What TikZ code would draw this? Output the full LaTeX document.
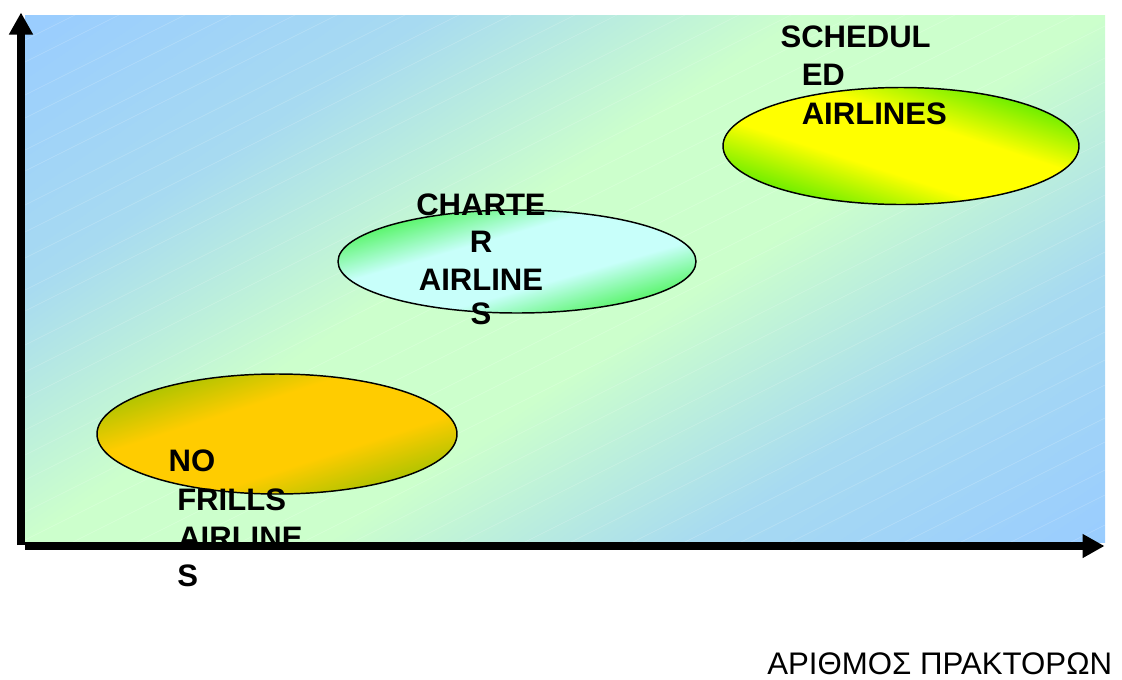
\documentclass[tikz,border=0pt]{standalone}
\usepackage{fontspec}
\setmainfont{Liberation Sans}
\usetikzlibrary{arrows.meta,shapes.geometric}
\definecolor{bgblue}{RGB}{153,204,255}
\definecolor{bggreen}{RGB}{204,255,204}
\definecolor{schedgreen}{RGB}{112,238,0}
\definecolor{schedyellow}{RGB}{255,255,0}
\definecolor{chgreen}{RGB}{92,245,110}
\definecolor{chcyan}{RGB}{200,255,250}
\definecolor{nfolive}{RGB}{178,196,0}
\definecolor{nfgold}{RGB}{255,204,0}
\colorlet{bgmid}{bgblue!72!bggreen}
\pgfdeclareverticalshading{bgsh}{100bp}{color(0bp)=(bgblue); color(25bp)=(bgblue); color(36bp)=(bgmid); color(46bp)=(bggreen); color(54bp)=(bggreen); color(64bp)=(bgmid); color(75bp)=(bgblue); color(100bp)=(bgblue)}
\pgfdeclareverticalshading{schedsh}{100bp}{color(0bp)=(schedgreen); color(25bp)=(schedgreen); color(41bp)=(schedyellow); color(59bp)=(schedyellow); color(75bp)=(schedgreen); color(100bp)=(schedgreen)}
\pgfdeclareverticalshading{chsh}{100bp}{color(0bp)=(chgreen); color(25bp)=(chgreen); color(40bp)=(chcyan); color(60bp)=(chcyan); color(75bp)=(chgreen); color(100bp)=(chgreen)}
\pgfdeclareverticalshading{nfsh}{100bp}{color(0bp)=(nfolive); color(25bp)=(nfolive); color(39bp)=(nfgold); color(61bp)=(nfgold); color(75bp)=(nfolive); color(100bp)=(nfolive)}
\tikzset{
  axisline/.style={line width=6pt, line cap=butt, -{Triangle[length=16.5pt,width=17pt]}},
  blob/.style={ellipse, draw=black, line width=1.1pt, inner sep=0pt, outer sep=0pt},
  lbl/.style={font=\fontsize{23.3pt}{28pt}\selectfont\bfseries, inner sep=0pt, text=black},
  axlbl/.style={font=\fontsize{23.4pt}{28pt}\selectfont, inner sep=0pt, text=black},
  streak/.style={white, opacity=0.22, line width=0.4pt}
}
\begin{document}
\begin{tikzpicture}[x=0.75pt,y=-0.75pt]
\useasboundingbox (0,0) rectangle (1122,679);
% background panel
\begin{scope}
  \clip (25,15) rectangle (1105,542);
  \begin{scope}[transform canvas={rotate around={34:(565,278.5)}}]
    \shade[shading=bgsh] (-35,-245) rectangle (1165,802);
  \end{scope}
  \foreach \c in {40,62,95,118,150,171,205,232,258,290,311,345,372,398,430,455,480,512,540,566,598,622,650,681,706,735,760,792,815,846,872,900,925,958,982,1010,1035,1065}
    \draw[streak] (25,\c) -- ++(1080,-540);
\end{scope}
% ellipse fills
\begin{scope}
  \clip (901,146) ellipse [x radius=178, y radius=58.5];
  \begin{scope}[transform canvas={rotate around={-18:(901,146)}}]
    \shade[shading=schedsh] (701,67.8) rectangle (1101,224.2);
  \end{scope}
\end{scope}
\begin{scope}
  \clip (517,261.5) ellipse [x radius=179, y radius=51.5];
  \begin{scope}[transform canvas={rotate around={16:(517,261.5)}}]
    \shade[shading=chsh] (317,191.5) rectangle (717,331.5);
  \end{scope}
\end{scope}
\begin{scope}
  \clip (277,434) ellipse [x radius=180, y radius=60];
  \begin{scope}[transform canvas={rotate around={18:(277,434)}}]
    \shade[shading=nfsh] (77,354.3) rectangle (477,513.7);
  \end{scope}
\end{scope}
% ellipse outlines
\node[blob, minimum width=267pt, minimum height=87.75pt] (sched) at (901,146) {};
\node[blob, minimum width=268.5pt, minimum height=77.25pt] (charter) at (517,261.5) {};
\node[blob, minimum width=270pt, minimum height=90pt] (nofrills) at (277,434) {};
% labels
\node[lbl, anchor=base west] (s1) at (780.3,47) {SCHEDUL};
\node[lbl, anchor=base west] (s2) at (801.5,85.5) {ED};
\node[lbl, anchor=base west] (s3) at (801.5,124) {AIRLINES};
\node[lbl, anchor=base] (c1) at (481,215) {CHARTE};
\node[lbl, anchor=base] (c2) at (481,252.5) {R};
\node[lbl, anchor=base] (c3) at (481,290) {AIRLINE};
\node[lbl, anchor=base] (c4) at (481,324.5) {S};
\node[lbl, anchor=base west] (n1) at (168.4,471.5) {NO};
\node[lbl, anchor=base west] (n2) at (177,510) {FRILLS};
\node[lbl, anchor=base west] (n3) at (178,548.5) {AIRLINE};
\node[lbl, anchor=base west] (n4) at (177,586.5) {S};
% axes
\coordinate (yfoot) at (21,545);
\coordinate (ytip) at (21,12.5);
\coordinate (xfoot) at (25,546);
\coordinate (xtip) at (1104.5,546);
\draw[axisline] (yfoot) -- (ytip);
\draw[axisline] (xfoot) -- (xtip);
\node[axlbl, anchor=base west] (xlabel) at (767,674.5) {ΑΡΙΘΜΟΣ ΠΡΑΚΤΟΡΩΝ};
\end{tikzpicture}
\end{document}
